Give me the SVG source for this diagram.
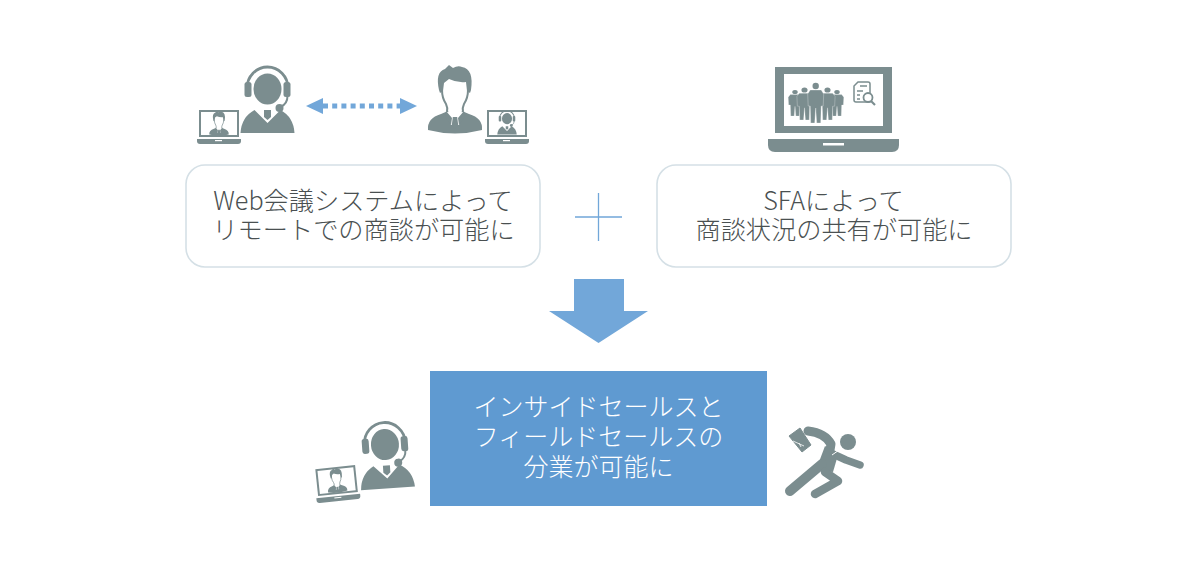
<svg xmlns="http://www.w3.org/2000/svg" xmlns:xlink="http://www.w3.org/1999/xlink" width="1200" height="573" viewBox="0 0 1200 573">
<style>
.i{fill:#7b8d8f}
.w{fill:#fff}
.s{fill:none;stroke:#7b8d8f}
.box{fill:#fff;stroke:#d5e0e6;stroke-width:1.6}
text{font-family:"Noto Sans CJK JP","Noto Sans",sans-serif;font-size:25.2px;text-anchor:middle;font-weight:300}
.d{fill:#4a5051}
.l{fill:#fff;font-size:25px}
</style>
<defs>
<g id="agent">
<path class="s" stroke-width="2.800" d="M-20.500 -3V-2A20.500 21 0 0 1 20.500 -2V-3"/>
<rect class="i" x="-23" y="-8" width="7" height="15" rx="2.500"/>
<rect class="i" x="16" y="-8" width="7" height="15" rx="2.500"/>
<ellipse class="i" cx="0" cy="-1" rx="14" ry="15.500"/>
<path class="s" stroke-width="2" d="M20 6Q20 14 13 17"/>
<circle class="i" cx="12" cy="18" r="4"/>
<path class="i" d="M-27 43Q-26 27 -13 20L0 33L13 20Q26 27 27 43Z"/>
<path class="i" d="M-3.500 20H3.500V27L0 30L-3.500 27Z"/>
</g>
<g id="man">
<path class="i" d="M-27 32Q-28 20 -14 16L-7 13L-1 25H1L7 13L14 16Q28 20 27 32Q0 39 -27 32Z"/>
<path class="w" d="M-9 12L0 19L9 12L4 27H-4Z"/>
<path class="i" d="M-2.200 19H2.200L3.200 27L0 31L-3.200 27Z"/>
<path class="i" d="M-9 13L-3 20L-4 27L-10 19ZM9 13L3 20L4 27L10 19Z"/>
<path class="s" stroke-width="2" d="M-13 -8Q-13 0 -9 6Q-7 10 -8 14M13 -8Q13 0 9 6Q7 10 8 14"/>
<path class="i" d="M-16 -8Q-20 -26 -10 -29L-6 -33L-2 -30Q3 -33 7 -31Q19 -29 16 -8L15 -5L12 -7L11 -16Q2 -15 -6 -19L-11 -15L-12 -7L-15 -5Z"/>
</g>
<g id="lap">
<rect class="i" x="-20" y="-27" width="40" height="27"/>
<rect class="w" x="-18" y="-25" width="36" height="23"/>
<path class="i" d="M-22 2H22V4Q22 7 19 7H-19Q-22 7 -22 4Z"/>
<rect class="w" x="-4" y="3" width="7" height="1.200"/>
</g>
<g id="person">
<circle class="i" cx="0" cy="0" r="3.200"/>
<path class="i" d="M-5.500 4H5.500L8 8L7.500 20L5.500 20L5 37H1L0 22L-1 37H-5L-5.500 20L-7.500 20L-8 8Z" stroke="#fff" stroke-width=".3"/>
</g>
</defs>
<rect width="1200" height="573" fill="#fff"/>
<g id="connectors">
<path d="M575 217H622M598.500 193V241" fill="none" stroke="#72a7d9" stroke-width="1.300"/>
<path d="M574 279H624V311H648L598.500 343L549 311H574Z" fill="#72a7d9"/>
<path d="M306 106L323 98V114Z" fill="#72a7d9"/>
<path d="M417 106L400 98V114Z" fill="#72a7d9"/>
<path d="M323 106H400" fill="none" stroke="#72a7d9" stroke-width="5" stroke-dasharray="5 4.200"/>
</g>
<g id="node-web-icons">
<use xlink:href="#agent" href="#agent" x="267.500" y="90"/>
<use xlink:href="#man" href="#man" x="455" y="98"/>
<g transform="translate(219 137)">
<use xlink:href="#lap" href="#lap"/>
<use xlink:href="#man" href="#man" transform="translate(0 -14) scale(.36)"/>
</g>
<g transform="translate(507 137)">
<use xlink:href="#lap" href="#lap"/>
<use xlink:href="#agent" href="#agent" transform="translate(0 -18) scale(.36)"/>
</g>
</g>
<g id="node-sfa-icon">
<rect class="i" x="775" y="67" width="117" height="66"/>
<rect class="w" x="784" y="74" width="99" height="52"/>
<path class="i" d="M768 139H899V145Q899 152 892 152H775Q768 152 768 145Z"/>
<rect class="w" x="823" y="143" width="21" height="2.500"/>
<use xlink:href="#person" href="#person" transform="translate(795 92) scale(.85 .65)"/>
<use xlink:href="#person" href="#person" transform="translate(837 92) scale(.85 .65)"/>
<use xlink:href="#person" href="#person" transform="translate(804.500 90) scale(.95 .81)"/>
<use xlink:href="#person" href="#person" transform="translate(827.500 90) scale(.95 .81)"/>
<use xlink:href="#person" href="#person" transform="translate(815.700 86)"/>
<path d="M858 82H868Q870 82 870 84V102H856Q854 102 854 100V86Z" fill="#fff" stroke="#7b8d8f" stroke-width="1.500"/>
<path d="M857 91H863M857 95H860M857 99H860M860 86H867" fill="none" stroke="#7b8d8f" stroke-width="1.300"/>
<circle cx="868" cy="97.500" r="4.500" fill="#fff" stroke="#7b8d8f" stroke-width="1.800"/>
<path d="M871 101L875 105" fill="none" stroke="#7b8d8f" stroke-width="2.200"/>
</g>
<g id="node-web">
<rect class="box" x="186" y="165" width="354" height="102" rx="19"/>
<text class="d" x="363" y="210">Web会議システムによって</text>
<text class="d" x="363.500" y="238.500">リモートでの商談が可能に</text>
</g>
<g id="node-sfa">
<rect class="box" x="657" y="165" width="354" height="102" rx="19"/>
<text class="d" x="833.500" y="210">SFAによって</text>
<text class="d" x="834" y="238.500">商談状況の共有が可能に</text>
</g>
<g id="node-result">
<rect x="430" y="371" width="337" height="135" fill="#5f9ad1"/>
<text class="l" x="598.500" y="416">インサイドセールスと</text>
<text class="l" x="598.500" y="446">フィールドセールスの</text>
<text class="l" x="598.500" y="476">分業が可能に</text>
</g>
<g id="node-inside-icon">
<g transform="translate(385 445.500) rotate(-4)"><use xlink:href="#agent" href="#agent"/></g>
<g transform="translate(338 494) rotate(-6)">
<use xlink:href="#lap" href="#lap"/>
<use xlink:href="#man" href="#man" transform="translate(0 -14) scale(.36)"/>
</g>
</g>
<g id="node-field-icon">
<circle class="i" cx="848" cy="442" r="8"/>
<path class="s" stroke-width="9" stroke-linecap="round" stroke-linejoin="round" d="M808 431Q825 433 831 444L829 456"/>
<path class="s" stroke-width="7.500" stroke-linecap="round" stroke-linejoin="round" d="M833 454L846 460L860 465"/>
<path class="i" d="M825 446L838 455L833 472L816 470Z"/>
<path class="s" stroke-width="10" stroke-linecap="round" d="M822 464L790 491"/>
<path class="s" stroke-width="8.500" stroke-linecap="round" stroke-linejoin="round" d="M825 472L838 481L815 494"/>
<path class="i" stroke="#7b8d8f" stroke-width="1" stroke-linejoin="round" d="M789 436L800 428L811 445L802 452Z"/>
<path d="M793 441L804 446M799 443L801 447" stroke="#fff" stroke-width=".8" fill="none"/>
<path d="M832 455L842 448" stroke="#fff" stroke-width="1" fill="none"/>
</g>
</svg>
